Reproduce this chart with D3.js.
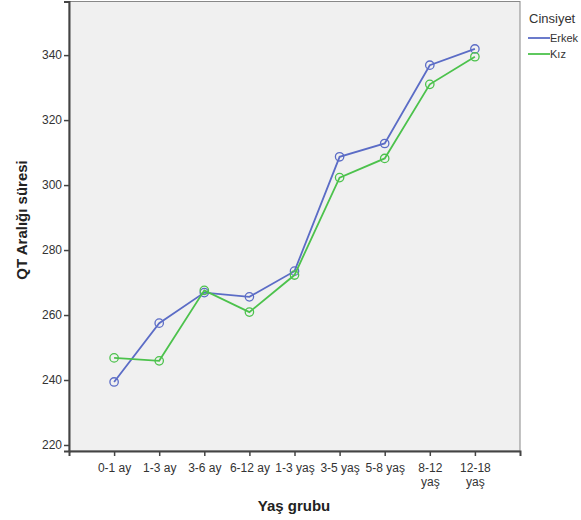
<!DOCTYPE html>
<html><head><meta charset="utf-8">
<script src="https://cdn.jsdelivr.net/npm/d3@7"></script>
<style>body{margin:0;background:#fff;}svg{display:block;font-family:Arial,"Liberation Sans",sans-serif;}</style>
</head><body>
<svg id="c" width="581" height="520"></svg>
<script>
const categories = [["0-1 ay"],["1-3 ay"],["3-6 ay"],["6-12 ay"],["1-3 yaş"],["3-5 yaş"],["5-8 yaş"],["8-12","yaş"],["12-18","yaş"]];
const erkek = [239.4, 257.5, 266.9, 265.6, 273.5, 308.7, 312.8, 336.9, 341.9];
const kiz   = [246.8, 245.9, 267.6, 260.9, 272.3, 302.3, 308.2, 331.0, 339.5];
const yTicks = [220, 240, 260, 280, 300, 320, 340];
const seriesNames = ["Erkek", "Kız"];
const colors = ["#5b6cc6", "#4cc24c"];

const svg = d3.select("#c");
const L = 69, R = 520, T = 1.5, B = 451;
const keys = categories.map((c,i)=>i);
const x = d3.scalePoint().domain(keys).range([L, R]).padding(1);
const y = d3.scaleLinear().domain([218.15, 356.5]).range([B, T]);

svg.append("rect").attr("x", L).attr("y", T).attr("width", R-L).attr("height", B-T)
  .attr("fill", "#f0f0f0").attr("stroke", "#888").attr("stroke-width", 1);

const yAxis = svg.append("g").attr("transform", `translate(${L},0)`)
  .call(d3.axisLeft(y).tickValues(yTicks).tickSize(5).tickPadding(2));
const xAxis = svg.append("g").attr("transform", `translate(0,${B})`)
  .call(d3.axisBottom(x).tickSize(5).tickPadding(6).tickFormat(""));
[yAxis, xAxis].forEach(a => {
  a.select(".domain").attr("stroke", "#444").attr("stroke-width", 2);
  a.selectAll(".tick line").attr("stroke", "#444").attr("stroke-width", 1.5);
  a.selectAll(".tick text").attr("fill", "#333").style("font-size", "12px");
});
xAxis.selectAll(".tick").each(function(d){
  const g = d3.select(this);
  g.select("text").remove();
  categories[d].forEach((line, j) => {
    g.append("text").attr("x", 0).attr("y", 21 + j * 14)
      .attr("text-anchor", "middle").attr("fill", "#333")
      .style("font-size", "12px").text(line);
  });
});

[erkek, kiz].forEach((vals, si) => {
  const line = d3.line().x((d,i)=>x(i)).y(d=>y(d));
  svg.append("path").datum(vals).attr("d", line).attr("fill", "none")
    .attr("stroke", colors[si]).attr("stroke-width", 1.8);
  svg.selectAll(null).data(vals).enter().append("circle")
    .attr("cx", (d,i)=>x(i)).attr("cy", d=>y(d)).attr("r", 4.2)
    .attr("fill", "none").attr("stroke", colors[si]).attr("stroke-width", 1.3);
});

svg.append("text").attr("transform", "translate(27,220) rotate(-90)")
  .attr("text-anchor", "middle").attr("font-weight", "bold").attr("font-size", "15px")
  .attr("fill", "#222").text("QT Aralığı süresi");
svg.append("text").attr("x", 294).attr("y", 511).attr("text-anchor", "middle")
  .attr("font-weight", "bold").attr("font-size", "15px").attr("fill", "#222").text("Yaş grubu");

svg.append("text").attr("x", 529).attr("y", 23).attr("font-size", "13px").attr("fill", "#333").text("Cinsiyet");
seriesNames.forEach((n, i) => {
  const yy = 38 + i * 16;
  svg.append("line").attr("x1", 528).attr("x2", 550).attr("y1", yy).attr("y2", yy)
    .attr("stroke", colors[i]).attr("stroke-width", 1.8);
  svg.append("text").attr("x", 550).attr("y", yy + 4).attr("font-size", "11px").attr("fill", "#333").text(n);
});
</script>
</body></html>
